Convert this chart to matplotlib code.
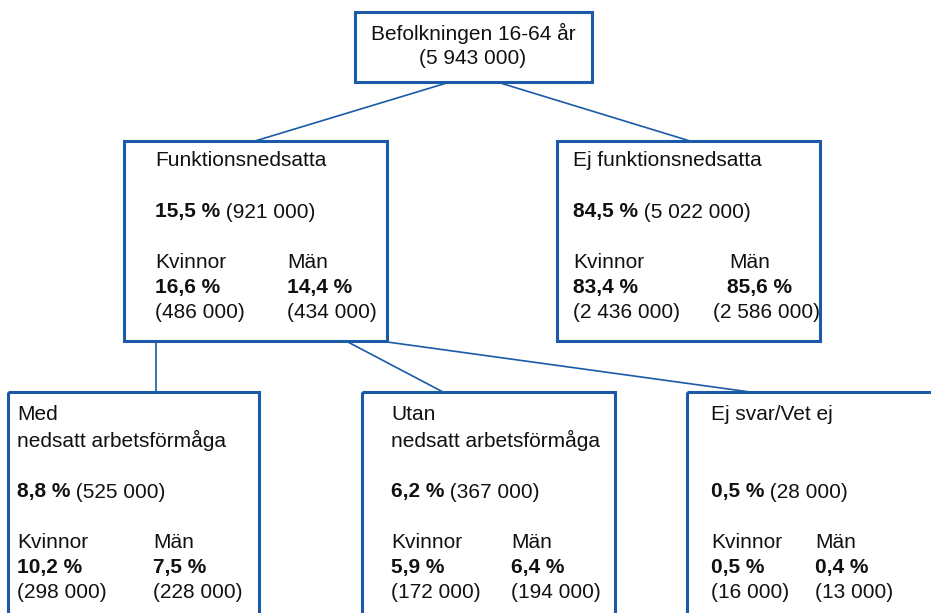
import matplotlib.pyplot as plt
from matplotlib.patches import Rectangle

plt.rcParams['font.family'] = ['Liberation Sans', 'DejaVu Sans']

# data
top_title = "Befolkningen 16-64 år"
top_count = "(5 943 000)"

mid_titles = ["Funktionsnedsatta", "Ej funktionsnedsatta"]
mid_pct = ["15,5 %", "84,5 %"]
mid_count = ["(921 000)", "(5 022 000)"]
mid_kv_pct = ["16,6 %", "83,4 %"]
mid_kv_count = ["(486 000)", "(2 436 000)"]
mid_man_pct = ["14,4 %", "85,6 %"]
mid_man_count = ["(434 000)", "(2 586 000)"]

low_titles = ["Med\nnedsatt arbetsförmåga", "Utan\nnedsatt arbetsförmåga", "Ej svar/Vet ej"]
low_pct = ["8,8 %", "6,2 %", "0,5 %"]
low_count = ["(525 000)", "(367 000)", "(28 000)"]
low_kv_pct = ["10,2 %", "5,9 %", "0,5 %"]
low_kv_count = ["(298 000)", "(172 000)", "(16 000)"]
low_man_pct = ["7,5 %", "6,4 %", "0,4 %"]
low_man_count = ["(228 000)", "(194 000)", "(13 000)"]

blue = "#1a5aa6"
fs = 15.0

fig = plt.figure(figsize=(9.31, 6.13), dpi=100)
ax = fig.add_axes([0, 0, 1, 1])
ax.set_xlim(0, 931)
ax.set_ylim(613, 0)
ax.axis('off')


def box(x0, y0, x1, y1):
    ax.add_patch(Rectangle((x0, y0), x1 - x0, y1 - y0, fill=False,
                           edgecolor=blue, lw=2.2, zorder=3))


def line(x0, y0, x1, y1):
    ax.plot([x0, x1], [y0, y1], color=blue, lw=1.2, zorder=2)


def txt(x, y, s, bold=False, **kw):
    return ax.text(x, y, s, fontsize=fs, va='center', ha='left',
                   fontweight='bold' if bold else 'normal', color='#111111', **kw)


def pct_count(x, y, p, c):
    t = txt(x, y, p, bold=True)
    ax.annotate(" " + c, xy=(1, 0), xycoords=t, va='bottom', ha='left',
                fontsize=fs, color='#111111')


# boxes
box(355, 12, 592, 82)
box(124, 141, 387, 341)
box(557, 141, 820, 341)
box(8, 392, 259, 640)
box(362, 392, 615, 640)
box(687, 392, 960, 640)

# connectors
line(450, 82, 255, 141)
line(497, 82, 690, 141)
line(156, 341, 156, 392)
line(346, 341, 443, 392)
line(380, 341, 750, 392)

# top box
ax.text(473, 33, top_title, fontsize=fs, ha='center', va='center', color='#111111')
ax.text(473, 58, top_count, fontsize=fs, ha='center', va='center', color='#111111')

# middle boxes
mid_x = [155, 573]
mid_man_x = [[287, 287, 287], [729, 727, 713]]
for i in range(2):
    x = mid_x[i]
    txt(x, 160, mid_titles[i])
    pct_count(x, 212, mid_pct[i], mid_count[i])
    txt(x, 262, "Kvinnor")
    txt(x, 287, mid_kv_pct[i], bold=True)
    txt(x, 312, mid_kv_count[i])
    mx = mid_man_x[i]
    txt(mx[0], 262, "Män")
    txt(mx[1], 287, mid_man_pct[i], bold=True)
    txt(mx[2], 312, mid_man_count[i])

# bottom boxes
low_x = [17, 391, 711]
low_man_x = [153, 511, 815]
for i in range(3):
    x = low_x[i]
    for j, part in enumerate(low_titles[i].split("\n")):
        txt(x, 414 + 26 * j, part)
    pct_count(x, 492, low_pct[i], low_count[i])
    txt(x, 543, "Kvinnor")
    txt(x, 568, low_kv_pct[i], bold=True)
    txt(x, 593, low_kv_count[i])
    mx = low_man_x[i]
    txt(mx, 543, "Män")
    txt(mx, 568, low_man_pct[i], bold=True)
    txt(mx, 593, low_man_count[i])

fig.savefig("out.png", dpi=100)
